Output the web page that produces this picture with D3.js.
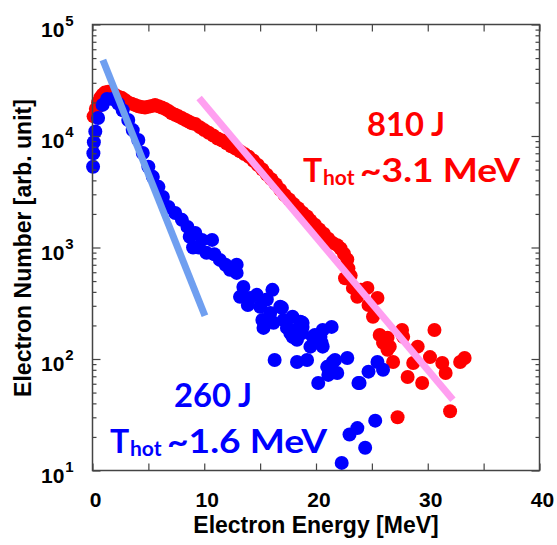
<!DOCTYPE html>
<html>
<head>
<meta charset="utf-8">
<script src="https://cdnjs.cloudflare.com/ajax/libs/d3/7.8.5/d3.min.js"></script>
<style>
  body { margin: 0; background: #fff; }
  svg { display: block; }
  .axis-label { font-family: "Liberation Sans", Arial, sans-serif; font-weight: bold; fill: #000; }
  .note { font-family: Lato, "Open Sans", sans-serif; font-weight: bold; }
</style>
</head>
<body>
<svg id="chart"></svg>
<script>
const WIDTH = 557;
const HEIGHT = 545;
const MARGIN = { top: 24.5, right: 17.5, bottom: 74.5, left: 92.5 };
const R = 7;

// 810 J shot (red)
const redEnergy = [0.1, 0.3, 0.5, 0.7, 0.9, 1.1, 1.4, 1.7, 2.0, 2.3, 2.6, 2.9, 3.2, 3.5, 3.8, 4.1, 4.4, 4.7, 5.0, 5.3,
  5.6, 5.9, 6.2, 6.5, 6.8, 7.1, 7.4, 7.7, 8.0, 8.3, 8.6, 8.9, 9.2, 9.6, 10.0, 10.4, 10.8, 11.2, 11.6, 12.0,
  12.4, 12.8, 13.2, 13.6, 14.0, 14.4, 14.8, 15.2, 15.6, 16.0, 16.4, 16.8, 17.2, 17.6, 18.0, 18.4, 18.8, 19.2, 19.5, 19.9,
  20.3, 20.7, 21.1, 21.5, 21.9, 22.2, 22.5, 22.8, 22.9, 23.1, 22.6, 23.3, 24.0, 24.6, 25.5, 25.1, 25.7, 26.4, 26.6, 26.4,
  26.9, 27.7, 27.8, 28.2, 29.1, 29.5, 30.2, 30.6, 31.3, 31.6, 32.9, 33.3, 32.0, 27.3, 23.7, 24.7, 26.0, 28.7];
const redCount = [15000, 17500, 20000, 22000, 23500, 24500, 25000, 24500, 23500, 22500, 22000, 21000, 20000, 19500, 19000, 18500, 18200, 18000, 18300, 18600,
  19000, 18500, 18000, 17500, 16800, 16000, 15500, 15000, 14500, 14000, 13500, 13000, 12800, 12000, 11300, 10700, 10100, 9500, 9100, 8600,
  8100, 7700, 7300, 6900, 6500, 6000, 5500, 5000, 4500, 4100, 3700, 3300, 2950, 2700, 2450, 2250, 2050, 1900, 1750, 1600,
  1450, 1330, 1200, 1100, 1050, 980, 880, 780, 650, 560, 530, 434, 417, 434, 353, 239, 164, 155, 129, 121,
  94, 182, 158, 69, 129, 61, 104, 182, 92, 75, 94, 102, 34, 30, 361, 305, 140, 92];

// 260 J shot (blue)
const blueEnergy = [0.05, 0.08, 0.12, 0.25, 0.5, 0.9, 1.3, 1.8, 2.3, 2.7, 3.2, 3.6, 4.1, 4.5, 5.0, 5.4, 5.9, 6.3, 6.8, 7.4,
  8.0, 8.5, 9.2, 9.8, 10.7, 8.7, 9.0, 9.5, 10.2, 10.9, 11.4, 11.9, 12.3, 12.9, 12.9, 13.5, 13.2, 14.1, 14.7, 16.1,
  15.0, 15.2, 15.3, 16.2, 16.8, 17.1, 17.4, 17.9, 18.6, 18.8, 18.3, 19.5, 20.4, 21.4, 20.6, 16.3, 18.3, 19.2, 21.0, 21.9,
  22.8, 20.2, 21.1, 23.8, 17.9, 18.8, 17.7, 19.7, 20.5, 20.6, 21.5, 23.9, 24.7, 25.5, 26.0, 25.3, 23.7, 23.0, 24.4, 22.3,
  13.9, 15.6, 15.9, 16.95, 17.85, 18.1, 18.75, 19.9, 21.7];
const blueCount = [5300, 7000, 8800, 11000, 14500, 19000, 21500, 21500, 19500, 17000, 13900, 11300, 9200, 7050, 5300, 4300, 3500, 2840, 2310, 2040,
  1770, 1530, 1350, 1170, 1170, 1250, 1000, 1000, 895, 870, 774, 700, 630, 592, 700, 443, 361, 353, 376, 417,
  294, 224, 190, 211, 294, 224, 190, 158, 216, 194, 149, 129, 158, 194, 129, 98, 94, 98, 85, 75,
  102, 61, 72, 61, 239, 211, 171, 158, 140, 182, 94, 61, 77, 94, 80, 28, 24, 21, 16, 11.7,
  305, 342, 259, 288, 182, 155, 171, 164, 98];

// exponential fits (end points)
const blueFitEnergy = [0.93, 10.06];
const blueFitCount = [48000, 244];
const redFitEnergy = [9.54, 32.25];
const redFitCount = [21900, 43];

const xTicks = [0, 5, 10, 15, 20, 25, 30, 35, 40];
const yDecades = [10, 100, 1000, 10000, 100000];

const width = WIDTH - MARGIN.left - MARGIN.right;
const height = HEIGHT - MARGIN.top - MARGIN.bottom;

const $svg = d3.select('#chart').attr('width', WIDTH).attr('height', HEIGHT);

const x = d3.scaleLinear().domain([0, 40]).range([MARGIN.left, MARGIN.left + width]);
const y = d3.scaleLog().domain([10, 1e5]).range([MARGIN.top + height, MARGIN.top]);

const yMinor = [];
yDecades.slice(0, -1).forEach(d => { for (let k = 2; k < 10; k++) yMinor.push(d * k); });

// points
const red = redEnergy.map((e, i) => ({ e, n: redCount[i] }));
const blue = blueEnergy.map((e, i) => ({ e, n: blueCount[i] }));

$svg.append('g').selectAll('circle').data(red).enter().append('circle')
  .attr('cx', d => x(d.e)).attr('cy', d => y(d.n)).attr('r', R).attr('fill', '#ff0000');

$svg.append('g').selectAll('circle').data(blue).enter().append('circle')
  .attr('cx', d => x(d.e)).attr('cy', d => y(d.n)).attr('r', R).attr('fill', '#0000ff');

// fit lines
const line = d3.line().x(d => x(d[0])).y(d => y(d[1]));
$svg.append('path')
  .attr('d', line(blueFitEnergy.map((e, i) => [e, blueFitCount[i]])))
  .attr('stroke', '#6f9ff0').attr('stroke-width', 7).attr('fill', 'none');
$svg.append('path')
  .attr('d', line(redFitEnergy.map((e, i) => [e, redFitCount[i]])))
  .attr('stroke', '#ff9ff0').attr('stroke-width', 7).attr('fill', 'none');

// axes (ticks point inward)
function styleAxis(g) {
  g.select('.domain').remove();
  g.selectAll('.tick line').attr('stroke', '#444').attr('stroke-width', 1.2);
  g.selectAll('.tick text').remove();
}

$svg.append('g').attr('transform', `translate(0,${MARGIN.top + height})`)
  .call(d3.axisBottom(x).tickValues(xTicks).tickSize(-7)).call(styleAxis);
$svg.append('g').attr('transform', `translate(0,${MARGIN.top})`)
  .call(d3.axisTop(x).tickValues(xTicks).tickSize(-7)).call(styleAxis);

[[d3.axisLeft, MARGIN.left], [d3.axisRight, MARGIN.left + width]].forEach(([axis, pos]) => {
  $svg.append('g').attr('transform', `translate(${pos},0)`)
    .call(axis(y).tickValues(yDecades).tickSize(-8)).call(styleAxis);
  $svg.append('g').attr('transform', `translate(${pos},0)`)
    .call(axis(y).tickValues(yMinor).tickSize(-4)).call(styleAxis);
});

// frame
$svg.append('rect')
  .attr('x', MARGIN.left).attr('y', MARGIN.top).attr('width', width).attr('height', height)
  .attr('fill', 'none').attr('stroke', '#444').attr('stroke-width', 1.5);

// tick labels
$svg.append('g').selectAll('text').data(xTicks.filter(d => d % 10 === 0)).enter().append('text')
  .attr('class', 'axis-label')
  .attr('x', d => x(d) + 3).attr('y', MARGIN.top + height + 36)
  .attr('text-anchor', 'middle').attr('font-size', 21)
  .text(d => d);

const yLab = $svg.append('g').selectAll('text').data(yDecades).enter().append('text')
  .attr('class', 'axis-label')
  .attr('x', 41).attr('y', d => y(d) + 12).attr('font-size', 21);
yLab.append('tspan').text('10');
yLab.append('tspan').attr('dx', 1).attr('dy', -11).attr('font-size', 15).text(d => Math.log10(d));

// axis titles
$svg.append('text').attr('class', 'axis-label')
  .attr('x', x(20)).attr('y', 533).attr('text-anchor', 'middle').attr('font-size', 23)
  .text('Electron Energy [MeV]');
$svg.append('text').attr('class', 'axis-label')
  .attr('transform', 'translate(31,248) rotate(-90)').attr('text-anchor', 'middle').attr('font-size', 23)
  .text('Electron Number [arb. unit]');

// annotations
function note(xPos, yPos, color, shot, temp) {
  $svg.append('text').attr('class', 'note').attr('fill', color)
    .attr('x', xPos + 64).attr('y', yPos).attr('font-size', 32)
    .attr('textLength', 78).attr('lengthAdjust', 'spacingAndGlyphs')
    .text(shot);
  const y2 = yPos + 46;
  $svg.append('text').attr('class', 'note').attr('fill', color)
    .attr('x', xPos).attr('y', y2).attr('font-size', 32).text('T');
  $svg.append('text').attr('class', 'note').attr('fill', color)
    .attr('x', xPos + 20).attr('y', y2 + 3).attr('font-size', 21).text('hot');
  $svg.append('text').attr('class', 'note').attr('fill', color)
    .attr('x', xPos + 57).attr('y', y2).attr('font-size', 32)
    .attr('textLength', 160).attr('lengthAdjust', 'spacingAndGlyphs')
    .text(temp);
}
note(303, 136, '#ff0000', '810 J', '~3.1 MeV');
note(110, 407, '#0000ff', '260 J', '~1.6 MeV');
</script>
</body>
</html>
